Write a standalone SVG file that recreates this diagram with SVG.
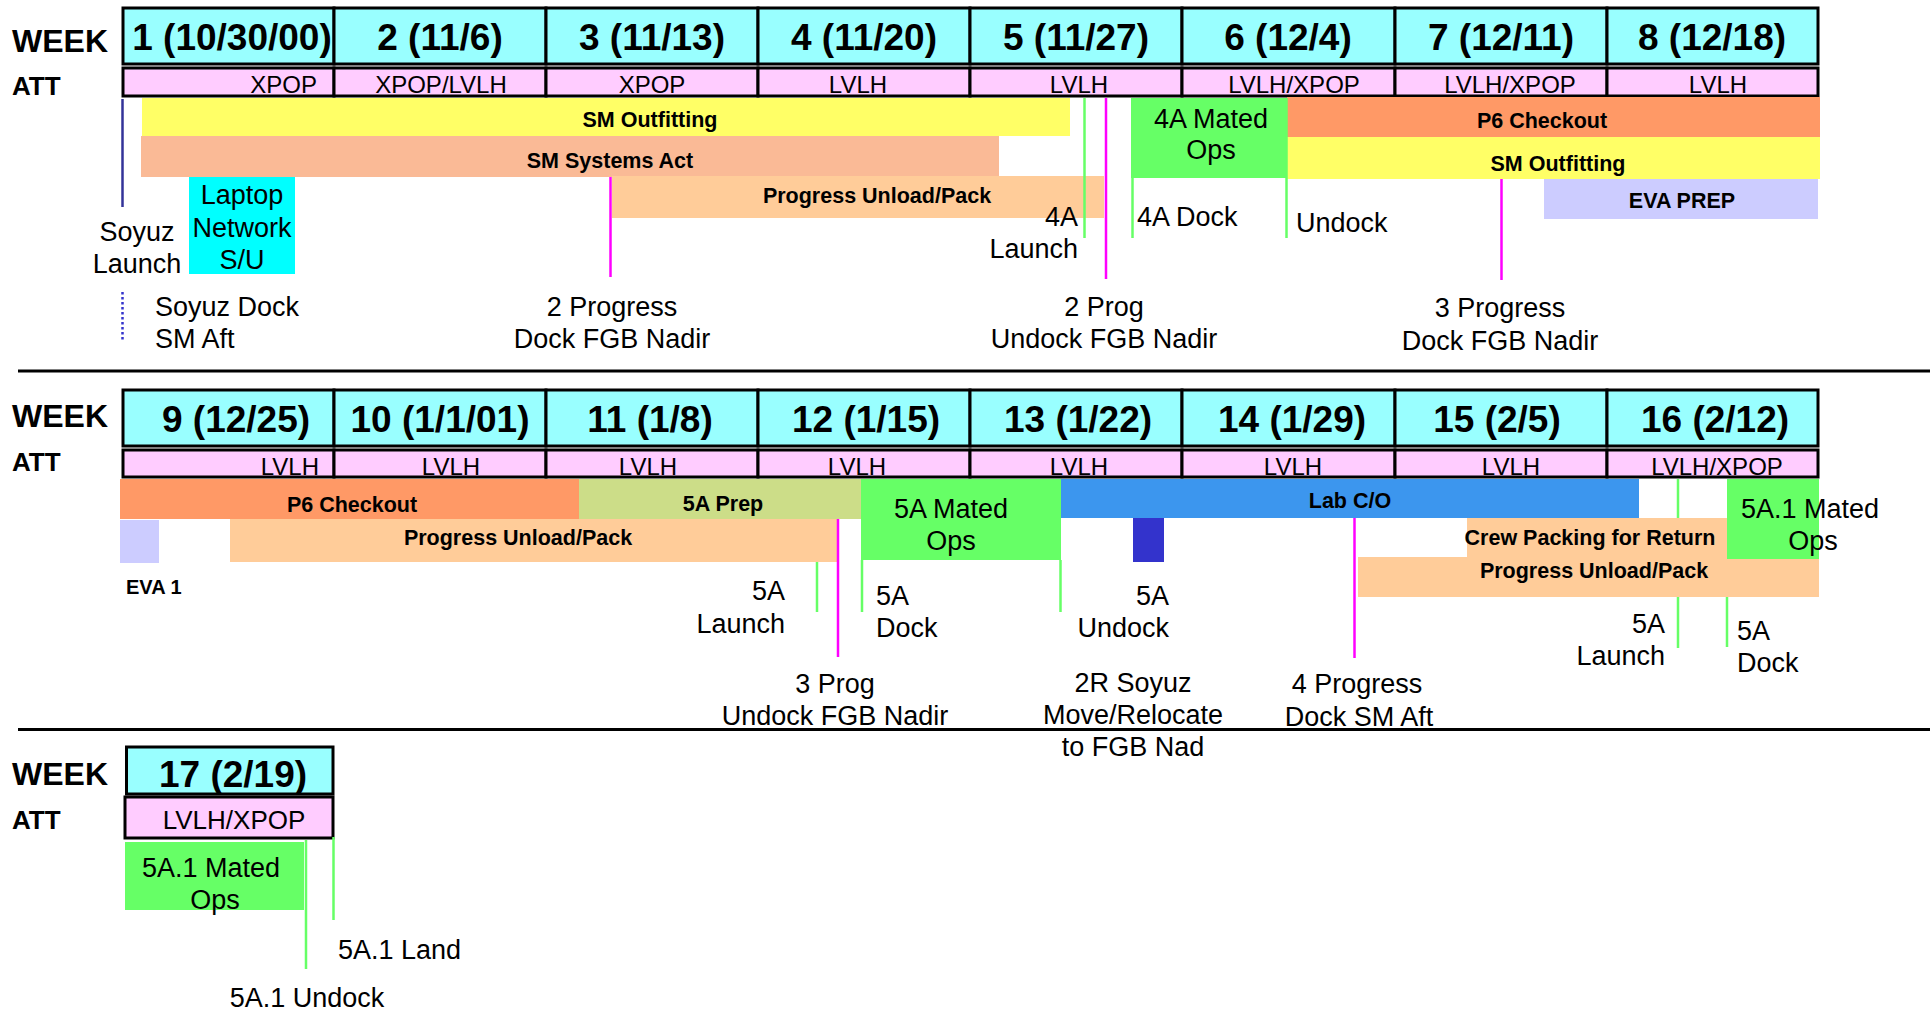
<svg xmlns="http://www.w3.org/2000/svg" width="1930" height="1011" viewBox="0 0 1930 1011">
<style>
text{font-family:"Liberation Sans",Arial,sans-serif;fill:#000}
.hd{font-size:32px;font-weight:bold}
.att{font-size:26px;font-weight:bold}
.wn{font-size:37px;font-weight:bold;text-anchor:middle}
.at{font-size:24px;text-anchor:middle}
.bl{font-size:21.5px;font-weight:bold;text-anchor:middle}
.lb{font-size:27px}
.m{text-anchor:middle}
.e{text-anchor:end}
.wk{fill:#99FFFF;stroke:#000;stroke-width:3}
.ac{fill:#FFCCFF;stroke:#000;stroke-width:3}
.g{stroke:#66FF66;stroke-width:2.5;fill:none}
.mg{stroke:#FF00FF;stroke-width:2.5;fill:none}
.sep{stroke:#000;stroke-width:3}
</style>
<rect width="1930" height="1011" fill="#fff"/>
<g id="separators">
<line class="sep" x1="18" y1="371" x2="1930" y2="371"/>
<line class="sep" x1="18" y1="729.5" x2="1930" y2="729.5"/>
</g>
<g id="headers">
<text class="hd" x="12" y="52">WEEK</text>
<text class="att" x="12" y="95">ATT</text>
<text class="hd" x="12" y="427">WEEK</text>
<text class="att" x="12" y="471">ATT</text>
<text class="hd" x="12" y="785">WEEK</text>
<text class="att" x="12" y="829">ATT</text>
</g>
<g id="week-row-1">
<rect class="wk" x="123" y="8" width="211" height="56"/>
<rect class="wk" x="334" y="8" width="212" height="56"/>
<rect class="wk" x="546" y="8" width="212" height="56"/>
<rect class="wk" x="758" y="8" width="212" height="56"/>
<rect class="wk" x="970" y="8" width="212" height="56"/>
<rect class="wk" x="1182" y="8" width="213" height="56"/>
<rect class="wk" x="1395" y="8" width="212" height="56"/>
<rect class="wk" x="1607" y="8" width="211" height="56"/>
<rect class="ac" x="123" y="68" width="211" height="28"/>
<rect class="ac" x="334" y="68" width="212" height="28"/>
<rect class="ac" x="546" y="68" width="212" height="28"/>
<rect class="ac" x="758" y="68" width="212" height="28"/>
<rect class="ac" x="970" y="68" width="212" height="28"/>
<rect class="ac" x="1182" y="68" width="213" height="28"/>
<rect class="ac" x="1395" y="68" width="212" height="28"/>
<rect class="ac" x="1607" y="68" width="211" height="28"/>
<text class="wn" x="232" y="50">1 (10/30/00)</text>
<text class="wn" x="440" y="50">2 (11/6)</text>
<text class="wn" x="652" y="50">3 (11/13)</text>
<text class="wn" x="864" y="50">4 (11/20)</text>
<text class="wn" x="1076" y="50">5 (11/27)</text>
<text class="wn" x="1288" y="50">6 (12/4)</text>
<text class="wn" x="1501" y="50">7 (12/11)</text>
<text class="wn" x="1712" y="50">8 (12/18)</text>
<text class="at e" x="317" y="93">XPOP</text>
<text class="at" x="441" y="93">XPOP/LVLH</text>
<text class="at" x="652" y="93">XPOP</text>
<text class="at" x="858" y="93">LVLH</text>
<text class="at" x="1079" y="93">LVLH</text>
<text class="at" x="1294" y="93">LVLH/XPOP</text>
<text class="at" x="1510" y="93">LVLH/XPOP</text>
<text class="at" x="1718" y="93">LVLH</text>
</g>
<g id="week-row-2">
<rect class="wk" x="123" y="390" width="211" height="56"/>
<rect class="wk" x="334" y="390" width="212" height="56"/>
<rect class="wk" x="546" y="390" width="212" height="56"/>
<rect class="wk" x="758" y="390" width="212" height="56"/>
<rect class="wk" x="970" y="390" width="212" height="56"/>
<rect class="wk" x="1182" y="390" width="213" height="56"/>
<rect class="wk" x="1395" y="390" width="212" height="56"/>
<rect class="wk" x="1607" y="390" width="211" height="56"/>
<rect class="ac" x="123" y="450" width="211" height="27"/>
<rect class="ac" x="334" y="450" width="212" height="27"/>
<rect class="ac" x="546" y="450" width="212" height="27"/>
<rect class="ac" x="758" y="450" width="212" height="27"/>
<rect class="ac" x="970" y="450" width="212" height="27"/>
<rect class="ac" x="1182" y="450" width="213" height="27"/>
<rect class="ac" x="1395" y="450" width="212" height="27"/>
<rect class="ac" x="1607" y="450" width="211" height="27"/>
<text class="wn" x="236" y="432">9 (12/25)</text>
<text class="wn" x="440" y="432">10 (1/1/01)</text>
<text class="wn" x="650" y="432">11 (1/8)</text>
<text class="wn" x="866" y="432">12 (1/15)</text>
<text class="wn" x="1078" y="432">13 (1/22)</text>
<text class="wn" x="1292" y="432">14 (1/29)</text>
<text class="wn" x="1497" y="432">15 (2/5)</text>
<text class="wn" x="1715" y="432">16 (2/12)</text>
<text class="at e" x="319" y="475">LVLH</text>
<text class="at" x="451" y="475">LVLH</text>
<text class="at" x="648" y="475">LVLH</text>
<text class="at" x="857" y="475">LVLH</text>
<text class="at" x="1079" y="475">LVLH</text>
<text class="at" x="1293" y="475">LVLH</text>
<text class="at" x="1511" y="475">LVLH</text>
<text class="at" x="1717" y="475">LVLH/XPOP</text>
</g>
<g id="week-row-3">
<rect class="wk" x="126.5" y="747" width="206.5" height="47"/>
<rect class="ac" x="125" y="797" width="208" height="41"/>
<text class="wn" x="233" y="787">17 (2/19)</text>
<text class="at" x="234" y="829" style="font-size:26px">LVLH/XPOP</text>
</g>
<g id="sm-outfitting-1"><rect x="142" y="98" width="928" height="38" fill="#FFFF66"/><text class="bl" x="650" y="127">SM Outfitting</text></g>
<g id="sm-systems-act"><rect x="141" y="136" width="858" height="41" fill="#FABA96"/><text class="bl" x="610" y="168">SM Systems Act</text></g>
<g id="progress-unload-1"><rect x="612" y="176" width="492" height="42" fill="#FFCC99"/><text class="bl" x="877" y="203">Progress Unload/Pack</text></g>
<g id="laptop-network"><rect x="189" y="177" width="106" height="97" fill="#00FFFF"/><text class="lb m" x="242" y="204">Laptop</text><text class="lb m" x="242" y="237">Network</text><text class="lb m" x="242" y="269">S/U</text></g>
<g id="mated-4a"><rect x="1131" y="98" width="156" height="80" fill="#66FF66"/><text class="lb m" x="1211" y="128">4A Mated</text><text class="lb m" x="1211" y="159">Ops</text></g>
<g id="p6-checkout-1"><rect x="1287" y="97" width="533" height="40" fill="#FF9966"/><text class="bl" x="1542" y="128">P6 Checkout</text></g>
<g id="sm-outfitting-2"><rect x="1287" y="137" width="533" height="42" fill="#FFFF66"/><text class="bl" x="1558" y="171">SM Outfitting</text></g>
<g id="eva-prep"><rect x="1544" y="179" width="274" height="40" fill="#CCCCFF"/><text class="bl" x="1682" y="208">EVA PREP</text></g>
<g id="p6-checkout-2"><rect x="120" y="479" width="459" height="40" fill="#FF9966"/><text class="bl" x="352" y="512">P6 Checkout</text></g>
<g id="prep-5a"><rect x="579" y="479" width="282" height="40" fill="#CCDD88"/><text class="bl" x="723" y="511">5A Prep</text></g>
<g id="mated-5a"><rect x="861" y="479" width="200" height="81" fill="#66FF66"/><text class="lb m" x="951" y="518">5A Mated</text><text class="lb m" x="951" y="550">Ops</text></g>
<g id="lab-co"><rect x="1061" y="479" width="578" height="39" fill="#3C96EE"/><text class="bl" x="1350" y="508">Lab C/O</text></g>
<g id="progress-unload-2"><rect x="230" y="519" width="607" height="43" fill="#FFCC99"/><text class="bl" x="518" y="545">Progress Unload/Pack</text></g>
<g id="eva-1"><rect x="120" y="520" width="39" height="43" fill="#CCCCFF"/><text x="126" y="594" style="font-size:20px;font-weight:bold">EVA 1</text></g>
<g id="soyuz-relocate-block"><rect x="1133" y="518" width="31" height="44" fill="#3333CC"/></g>
<g id="connectors-under">
<line class="g" x1="1678" y1="479" x2="1678" y2="518"/>
</g>
<g id="crew-packing"><rect x="1467" y="518" width="261" height="40" fill="#FFCC99"/><text class="bl" x="1590" y="545">Crew Packing for Return</text></g>
<g id="progress-unload-3"><rect x="1358" y="557" width="461" height="40" fill="#FFCC99"/><text class="bl" x="1594" y="578">Progress Unload/Pack</text></g>
<g id="mated-5a1-a"><rect x="1727" y="479" width="92" height="80" fill="#66FF66"/><text class="lb m" x="1810" y="518">5A.1 Mated</text><text class="lb m" x="1813" y="550">Ops</text></g>
<g id="mated-5a1-b"><rect x="125" y="842" width="179" height="68" fill="#66FF66"/><text class="lb m" x="211" y="877">5A.1 Mated</text><text class="lb m" x="215" y="909">Ops</text></g>
<g id="connectors">
<line x1="122.5" y1="99" x2="122.5" y2="207" stroke="#333399" stroke-width="2.5"/>
<line x1="122.5" y1="292" x2="122.5" y2="341" stroke="#3333CC" stroke-width="2.5" stroke-dasharray="2.5,2.5"/>
<line class="mg" x1="610.5" y1="177" x2="610.5" y2="277"/>
<line class="g" x1="1084.5" y1="98" x2="1084.5" y2="238"/>
<line class="mg" x1="1106" y1="98" x2="1106" y2="279"/>
<line class="g" x1="1132.5" y1="98" x2="1132.5" y2="238"/>
<line class="g" x1="1286.5" y1="98" x2="1286.5" y2="238"/>
<line class="mg" x1="1501.5" y1="179" x2="1501.5" y2="280"/>
<line class="g" x1="817" y1="562" x2="817" y2="612"/>
<line class="mg" x1="838" y1="519" x2="838" y2="657"/>
<line class="g" x1="862" y1="560" x2="862" y2="612"/>
<line class="g" x1="1060.5" y1="560" x2="1060.5" y2="612"/>
<line class="mg" x1="1354.5" y1="518" x2="1354.5" y2="658"/>
<line class="g" x1="1678" y1="597" x2="1678" y2="648"/>
<line class="g" x1="1727" y1="597" x2="1727" y2="647"/>
<line class="g" x1="306" y1="840" x2="306" y2="969"/>
<line class="g" x1="333.5" y1="837" x2="333.5" y2="920"/>
</g>
<g id="labels">
<text class="lb m" x="137" y="241">Soyuz</text>
<text class="lb m" x="137" y="273">Launch</text>
<text class="lb" x="155" y="316">Soyuz Dock</text>
<text class="lb" x="155" y="348">SM Aft</text>
<text class="lb m" x="612" y="316">2 Progress</text>
<text class="lb m" x="612" y="348">Dock FGB Nadir</text>
<text class="lb e" x="1078" y="226">4A</text>
<text class="lb e" x="1078" y="258">Launch</text>
<text class="lb m" x="1104" y="316">2 Prog</text>
<text class="lb m" x="1104" y="348">Undock FGB Nadir</text>
<text class="lb" x="1137" y="226">4A Dock</text>
<text class="lb" x="1296" y="232">Undock</text>
<text class="lb m" x="1500" y="317">3 Progress</text>
<text class="lb m" x="1500" y="350">Dock FGB Nadir</text>
<text class="lb e" x="785" y="600">5A</text>
<text class="lb e" x="785" y="633">Launch</text>
<text class="lb m" x="835" y="693">3 Prog</text>
<text class="lb m" x="835" y="725">Undock FGB Nadir</text>
<text class="lb" x="876" y="605">5A</text>
<text class="lb" x="876" y="637">Dock</text>
<text class="lb e" x="1169" y="605">5A</text>
<text class="lb e" x="1169" y="637">Undock</text>
<text class="lb m" x="1133" y="692">2R Soyuz</text>
<text class="lb m" x="1133" y="724">Move/Relocate</text>
<text class="lb m" x="1133" y="756">to FGB Nad</text>
<text class="lb m" x="1357" y="693">4 Progress</text>
<text class="lb m" x="1359" y="726">Dock SM Aft</text>
<text class="lb e" x="1665" y="633">5A</text>
<text class="lb e" x="1665" y="665">Launch</text>
<text class="lb" x="1737" y="640">5A</text>
<text class="lb" x="1737" y="672">Dock</text>
<text class="lb" x="338" y="959">5A.1 Land</text>
<text class="lb m" x="307" y="1007">5A.1 Undock</text>
</g>
</svg>
